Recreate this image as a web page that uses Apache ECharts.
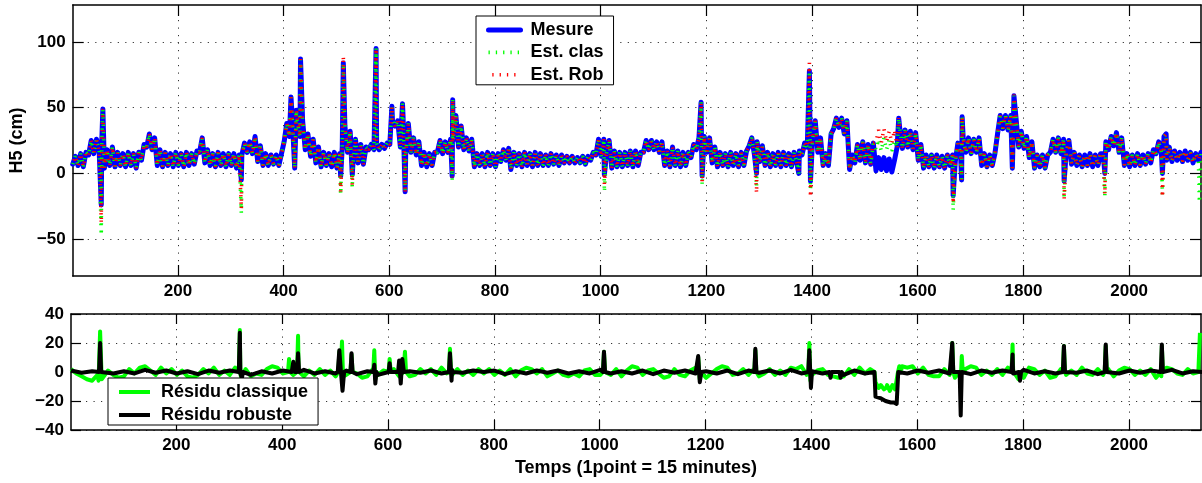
<!DOCTYPE html>
<html><head><meta charset="utf-8">
<script src="https://cdn.jsdelivr.net/npm/echarts@6/dist/echarts.min.js"></script>
<style>html,body{margin:0;padding:0;background:#fff}#c{width:1202px;height:483px}</style>
</head><body><div id="c"></div>
<script>
// ---- tick labels ----
const xTicks = [200,400,600,800,1000,1200,1400,1600,1800,2000];
const yTicksTop = [-50,0,50,100];
const yTicksBottom = [-40,-20,0,20,40];

// ---- Mesure (H5, cm): window i covers samples 1+10i..10+10i; low value at 1+10i, high value at 6+10i ----
const mesureLo = [7,6,5,14,15,17,4,6,5,6, 5,6,4,10,20,18,6,5,6,5, 6,5,6,7,16,8,6,5,6,5, 6,4,14,16,15,9,6,6,7,6,
  24,28,4,28,18,13,8,5,6,5, 4,20,16,6,8,7,18,18,18,19, 22,36,20,14,16,14,6,5,6,16, 15,16,25,20,18,17,5,6,5,6,
  5,9,10,5,6,5,6,5,6,6, 6,7,6,8,8,8,8,7,10,14, 13,15,4,5,5,6,5,6,16,18, 18,16,6,5,6,5,6,12,18,17,
  16,8,5,6,5,6,5,6,21,14, 9,6,5,6,5,6,5,8,14,20, 26,16,6,6,34,35,30,3,8,10, 8,7,2,3,2,1,20,19,20,18,
  10,4,5,4,5,4,6,9,15,16, 15,16,6,5,6,30,34,33,34,20, 19,12,4,5,4,16,16,15,16,7, 6,5,6,5,6,15,18,21,16,6,
  5,6,6,7,8,15,16,10,9,10, 9,10,8,10];
const mesureHi = [13,15,16,25,26,25,18,20,16,15, 16,15,16,22,30,27,18,16,15,16, 15,16,15,17,27,18,15,16,15,15, 15,14,23,24,28,21,15,14,14,15,
  38,45,40,40,30,26,20,16,15,16, 15,36,32,26,22,20,22,23,22,23, 40,40,44,38,27,24,16,15,16,25, 24,26,44,36,27,26,15,15,16,15,
  15,18,19,16,15,16,15,16,15,14, 15,14,14,13,13,12,13,13,16,26, 26,25,17,16,16,17,17,16,25,25, 24,24,17,20,17,16,16,22,27,28,
  27,20,16,15,16,15,16,17,27,24, 21,16,15,16,16,15,16,17,23,38, 40,27,15,30,42,42,40,14,22,24, 22,23,12,12,11,10,34,33,32,31,
  22,14,14,14,13,14,14,23,27,27, 26,27,15,14,15,44,44,44,42,32, 28,24,14,14,14,26,27,26,25,16, 14,14,15,14,15,24,28,31,27,15,
  14,15,14,15,18,24,28,20,17,16, 17,16,15,16];
// isolated peaks and dips of the measurement
const mesureSpikeX = [55,58,320,414,424,432,508,513,530,575,605,625,630,719,720,830,1007,1190,1192,1295,1375,1395,1397,1564,1667,1683,1684,1779,1782,1877,1954,2063,2070];
const mesureSpikeY = [-24,49,-5,58,48,87,-2,84,-1,95,51,53,-14,-2,56,3,-1,54,-2,0,0,78,-6,42,-17,-5,43,4,59,-6,0,0,30];

// estimates: where they differ from the measurement
const clasX = [55,320,508,530,630,719,1007,1192,1295,1397,1521,1526,1531,1536,1541,1546,1551,1556,1667,1877,1954,2063,2133];
const clasY = [-47,-30,-16,-11,-13,-5,-14,-9,-10,-12,18,26,17,27,18,26,17,25,-28,-18,-18,-16,-22];
const robX = [55,320,508,513,530,630,719,1007,1192,1295,1395,1397,1521,1526,1531,1536,1541,1546,1551,1556,1667,1782,1877,1954,2063];
const robY = [-38,-27,-14,89,-9,-15,-3,-8,-7,-15,84,-18,24,33,23,34,24,32,23,33,-23,60,-20,-16,-18];

// ---- residuals ----
// classical residual: value at sample 1+10i
const resClas = [2,-1,-3,-5,-6,-2,-5,1,-2,-4, -3,2,-1,3,4,1,-2,3,-1,2, -2,1,-3,-4,-2,2,-1,3,-2,1, -2,3,-1,2,-3,-1,-2,2,4,3,
  -1,2,-2,3,-3,1,-2,2,-2,1, -3,2,-2,3,-1,-4,-3,2,-2,1, -2,2,-3,1,-3,-2,2,-1,2,-2, 3,-1,-2,2,-2,1,-2,2,-1,2,
  -2,1,-2,2,-3,1,3,2,-1,2, -3,-1,1,-2,-3,-1,-3,1,2,-2, -2,1,-2,2,-3,1,4,3,-2,1, 2,-1,-4,-3,2,-2,-3,1,3,-5,
  -4,-1,2,4,3,-2,-1,2,-2,2, -3,-1,2,-2,1,-2,3,2,4,-2, -2,1,2,-2,-3,-4,-3,2,-2,3, -1,2,-7,-9,-11,-12,-12,4,3,4,
  -1,3,-2,-3,-3,2,-2,-4,-3,2, 4,3,-2,1,-2,2,-2,3,2,-5, -4,3,2,-2,1,-4,-3,2,-2,1, -2,3,-1,-2,2,-2,2,-3,1,3,
  2,-2,1,-2,2,-4,-3,3,2,-1, -2,2,-1,0];
// robust residual: value at sample 1+20i
const resRob = [1,-0.5,0.5,1,-1,0.5,-1,1.5,-0.5,1, -1,0.5,-1.5,1,-0.5,1,-1,-2,0.5,-1, 1,-0.5,1.5,-1,0.5,-1,1,-1.5,0.5,-2, 1,-1,0.5,-0.5,1,-1,1.5,-0.5,1,0,
  1,-1.5,0.5,-1,1,-0.5,1,-1,0.5,-1, 1.5,-1,0.5,-1,1,-1.5,1,-0.5,1,-1, 0.5,-1,1,-1.5,1,-0.5,1,-1,1.5,-1, 0.5,-1,1,-2,1,-1,-17,-20,-22,-1,
  1,-0.5,1,-1,0.5,-1.5,1,-0.5,1,-1, 1.5,-1,0.5,-1,1,-0.5,1,-1.5,0.5,-1, 1,-0.5,1,-1,1.5,-1,0.5,0];
const resClasSpikeX = [53,56,59, 318,320,322, 411,413,415, 428,430,432, 506,508,510,513,515, 529,531,533, 572,574,576,578, 601,603,605, 629,632,634,
  715,717,719, 1006,1008,1010, 1184,1186,1189,1191, 1292,1294,1296, 1394,1396,1398,1400,
  1519,1522,1527,1532,1537,1543,1548,1553,1558,1563,1566,1570,1574, 1664,1666,1668, 1680,1682,1684,1686,
  1778,1780,1782,1792,1794,1796, 1875,1877,1879, 1954,1956,1958, 2060,2062,2064, 2131,2134];
const resClasSpikeY = [-6,28,-5, 0,29,-3, 0,9,0, 0,25,0, 0,14,0,21,-3, 0,12,0, 0,15,-5,0, 0,9,0, 0,14,0,
  0,16,0, 0,14,0, 0,10,-5,0, 0,15,0, 0,20,-6,0,
  0,-6,-11,-8,-12,-9,-13,-9,-12,-1,4,2,4, 0,20,0, 0,-6,11,0,
  0,19,0,0,-5,0, 0,18,0, 0,18,0, 0,18,0, 0,27];
const resRobSpikeX = [54,56,58, 318,320,322,324,326, 418,421,424,428,430,432, 505,508,511,514,517, 529,531,533, 572,574,576,578, 601,603,605,
  619,621,624,627,630, 715,717,720,722, 1006,1008,1010, 1184,1186,1189,1192, 1292,1294,1296, 1394,1396,1399,1402,
  1434,1436,1438,1453,1455,1457, 1519,1521,1530,1540,1550,1556,1562,1564, 1664,1666,1668, 1680,1682,1684,
  1778,1780,1782,1792,1794,1796, 1875,1877,1879, 1954,1956,1958, 2060,2062,2064];
const resRobSpikeY = [0,20,0, 0,27,0,-4,0, 0,7,0,0,13,0, 0,15,0,-13,0, 0,13,0, 0,5,-8,0, 0,6,0,
  0,8,-8,9,0, 0,13,-6,0, 0,14,0, 0,11,-7,0, 0,16,0, 0,15,-11,0,
  0,-4,0,0,-4,0, 0,-17,-18,-20,-21,-21,-23,0, 0,20,0, 0,-30,0,
  0,12,0,0,-6,0, 0,18,0, 0,19,0, 0,19,0];

// ---- build series tables ----
function toSorted(map){ return Array.from(map.entries()).sort((a,b)=>a[0]-b[0]); }
function withOverrides(baseMap, xs, ys){ const m = new Map(baseMap); xs.forEach((x,i)=>m.set(x, ys[i])); return m; }
const mesureMap = new Map();
mesureLo.forEach((v,i)=>{ mesureMap.set(1+10*i, v); mesureMap.set(6+10*i, mesureHi[i]); });
const mesureFull = withOverrides(mesureMap, mesureSpikeX, mesureSpikeY);
const mesureData = toSorted(mesureFull);
const clasData = toSorted(withOverrides(mesureFull, clasX, clasY));
const robData = toSorted(withOverrides(mesureFull, robX, robY));
const clasBase = new Map(); resClas.forEach((v,i)=>clasBase.set(1+10*i, v));
const robBase = new Map(); resRob.forEach((v,i)=>robBase.set(1+20*i, v));
const resClasData = toSorted(withOverrides(clasBase, resClasSpikeX, resClasSpikeY));
const resRobData = toSorted(withOverrides(robBase, resRobSpikeX, resRobSpikeY));

// ---- chart ----
const FONT = 'Liberation Sans';
const lab = {fontFamily: FONT, fontWeight: 'bold', fontSize: 17, color: '#000'};
const minus = v => String(v).replace('-', '\u2212');
const gridLine = {show: true, lineStyle: {color: '#333', width: 1, type: [1.2, 6.3]}};
const frame = {show: true, onZero: false, lineStyle: {color: '#000', width: 1.5}};

function xAx(gi, pos, labels, tickLen, extra){
  return Object.assign({type: 'value', gridIndex: gi, position: pos, min: 1, max: 2136,
    axisLine: frame, axisTick: {show: true, inside: true, length: tickLen, customValues: xTicks, lineStyle: {color: '#000', width: 1.2}},
    axisLabel: labels ? Object.assign({show: true, customValues: xTicks, margin: 7, formatter: v => String(v)}, lab) : {show: false},
    splitLine: labels ? gridLine : {show: false}}, extra || {});
}
function yAx(gi, pos, labels, mn, mx, ticks, tickLen, extra){
  return Object.assign({type: 'value', gridIndex: gi, position: pos, min: mn, max: mx,
    axisLine: frame, axisTick: {show: true, inside: true, length: tickLen, customValues: ticks, lineStyle: {color: '#000', width: 1.2}},
    axisLabel: labels ? Object.assign({show: true, customValues: ticks, margin: 7, formatter: minus}, lab) : {show: false},
    splitLine: labels ? gridLine : {show: false}}, extra || {});
}
const legendText = {fontFamily: FONT, fontWeight: 'bold', fontSize: 18, color: '#000'};

const option = {
  animation: false,
  backgroundColor: '#fff',
  grid: [
    {left: 71, right: 1, top: 5, height: 271},
    {left: 71, right: 1, top: 314, height: 116}
  ],
  xAxis: [
    xAx(0, 'bottom', true, 11),
    xAx(0, 'top', false, 11),
    xAx(1, 'bottom', true, 10, {name: 'Temps (1point = 15 minutes)', nameLocation: 'middle', nameGap: 29,
      nameTextStyle: {fontFamily: FONT, fontWeight: 'bold', fontSize: 18, color: '#000'}}),
    xAx(1, 'top', false, 10)
  ],
  yAxis: [
    yAx(0, 'left', true, -78, 128, yTicksTop, 11, {name: 'H5 (cm)', nameLocation: 'middle', nameGap: 44, nameRotate: 90,
      nameTextStyle: {fontFamily: FONT, fontWeight: 'bold', fontSize: 18, color: '#000'}}),
    yAx(0, 'right', false, -78, 128, yTicksTop, 11),
    yAx(1, 'left', true, -40, 40, yTicksBottom, 10),
    yAx(1, 'right', false, -40, 40, yTicksBottom, 10)
  ],
  legend: [
    {left: 476, top: 16, orient: 'vertical', selectedMode: false, data: ['Mesure', 'Est. clas', 'Est. Rob'],
      itemWidth: 32, itemHeight: 14, itemGap: 4.4, padding: [5, 10, 1, 10],
      itemStyle: {opacity: 0}, lineStyle: {width: 'inherit'},
      borderColor: '#000', borderWidth: 1, backgroundColor: '#fff',
      textStyle: Object.assign({padding: [0, 0, 0, 5]}, legendText)},
    {left: 108, top: 378, orient: 'vertical', selectedMode: false, data: ['Résidu classique', 'Résidu robuste'],
      itemWidth: 31, itemHeight: 14, itemGap: 5, padding: [5, 10, 1, 9],
      itemStyle: {opacity: 0}, lineStyle: {width: 'inherit'},
      borderColor: '#000', borderWidth: 1, backgroundColor: '#fff',
      textStyle: Object.assign({padding: [0, 0, 0, 6]}, legendText)}
  ],
  series: [
    {name: 'Mesure', type: 'line', xAxisIndex: 0, yAxisIndex: 0, data: mesureData, symbol: 'none', silent: true,
      lineStyle: {color: '#0000ff', width: 5, cap: 'round', join: 'round'}, itemStyle: {color: '#0000ff'}},
    {name: 'Est. clas', type: 'line', xAxisIndex: 0, yAxisIndex: 0, data: clasData, symbol: 'none', silent: true,
      lineStyle: {color: '#00ff00', width: 3.6, type: [1.3, 6], cap: 'butt'}, itemStyle: {color: '#00ff00'}},
    {name: 'Est. Rob', type: 'line', xAxisIndex: 0, yAxisIndex: 0, data: robData, symbol: 'none', silent: true,
      lineStyle: {color: '#ff0000', width: 3.6, type: [1.3, 6], dashOffset: 3.5, cap: 'butt'}, itemStyle: {color: '#ff0000'}},
    {name: 'Résidu classique', type: 'line', xAxisIndex: 2, yAxisIndex: 2, data: resClasData, symbol: 'none', silent: true,
      lineStyle: {color: '#00ff00', width: 4, join: 'round'}, itemStyle: {color: '#00ff00'}},
    {name: 'Résidu robuste', type: 'line', xAxisIndex: 2, yAxisIndex: 2, data: resRobData, symbol: 'none', silent: true,
      lineStyle: {color: '#000000', width: 4, join: 'round'}, itemStyle: {color: '#000000'}}
  ]
};
const chart = echarts.init(document.getElementById('c'), null, {renderer: 'canvas'});
chart.setOption(option);
</script>
</body></html>
